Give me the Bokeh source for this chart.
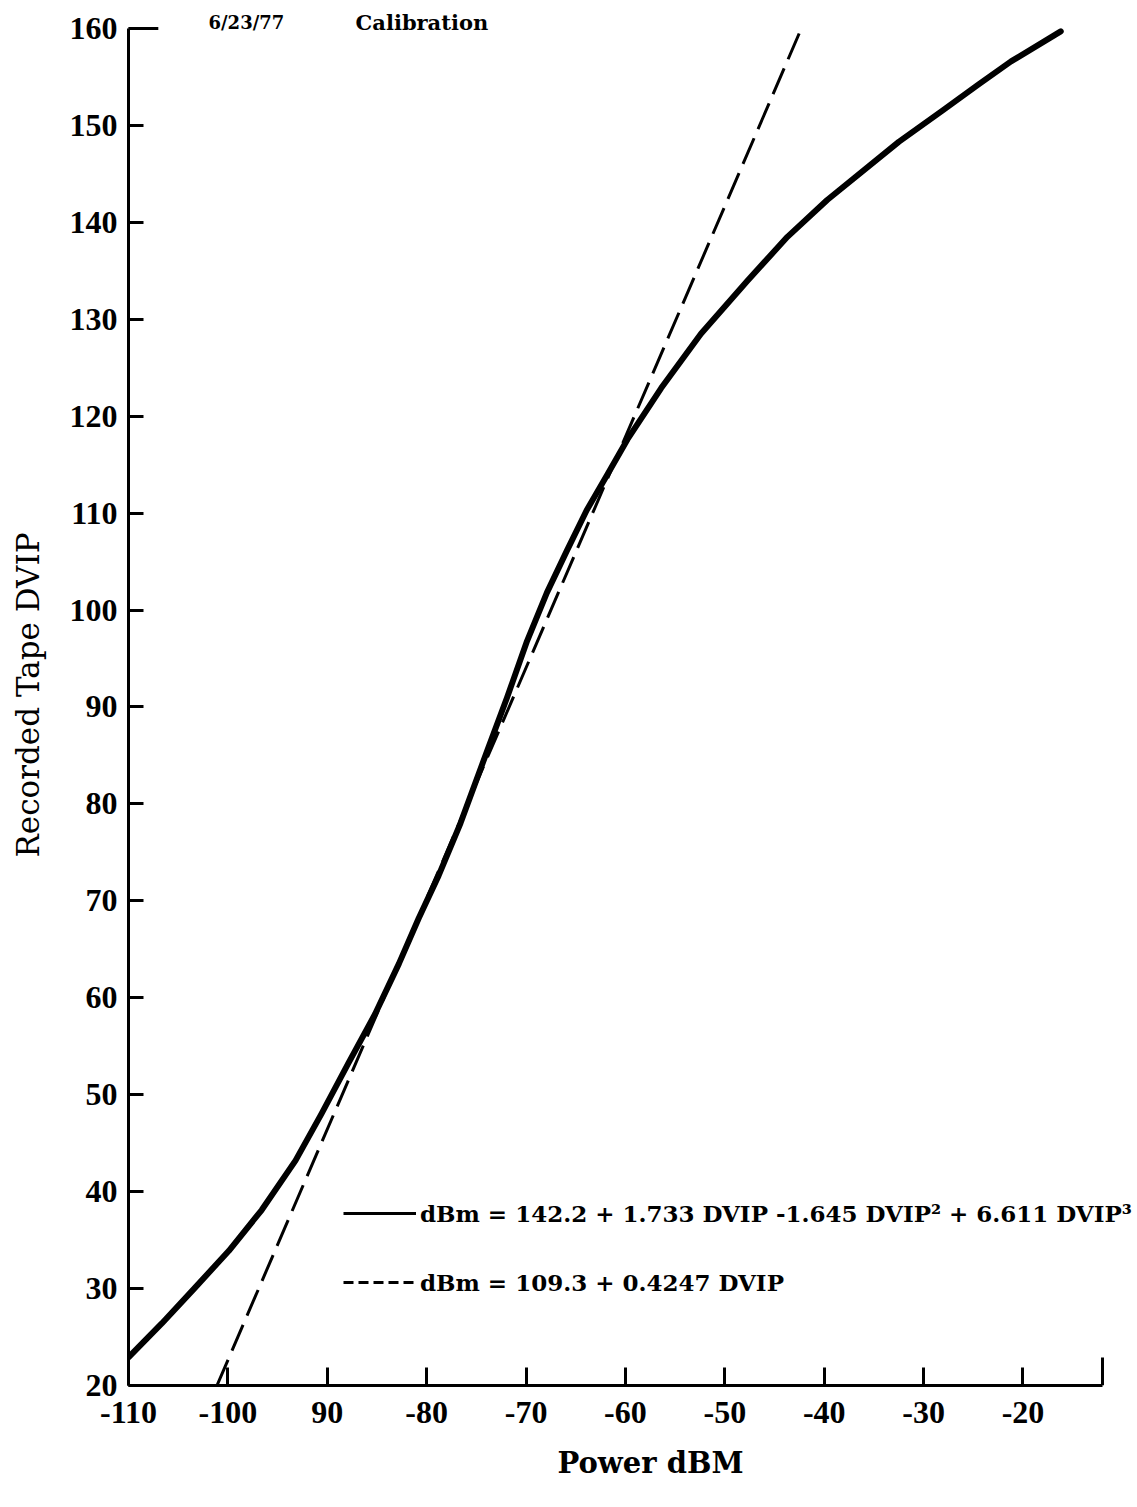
from bokeh.plotting import figure
from bokeh.models import Range1d, FixedTicker, Label, Legend, LegendItem, Title
from bokeh.embed import file_html
from bokeh.resources import INLINE

# ---- data ----
x_ticks = [-110, -100, -90, -80, -70, -60, -50, -40, -30, -20]
x_tick_labels = ["-110", "-100", "90", "-80", "-70", "-60", "-50", "-40", "-30", "-20"]
y_ticks = [20, 30, 40, 50, 60, 70, 80, 90, 100, 110, 120, 130, 140, 150, 160]
y_tick_labels = ["20", "30", "40", "50", "60", "70", "80", "90", "100", "110",
                 "120", "130", "140", "150", "160"]

# measured calibration curve (solid)
power_dbm = [-110.0, -106.65, -103.3, -99.9, -96.6, -93.2, -90.6, -87.9, -85.2, -82.8,
             -80.8, -78.8, -76.6, -73.9, -71.9, -69.9, -67.9, -65.9, -63.9, -61.8,
             -59.8, -56.4, -52.4, -47.7, -43.7, -39.7, -32.5, -28.0, -24.5, -21.2,
             -16.2]
dvip = [22.9, 26.4, 30.1, 33.9, 38.1, 43.2, 48.0, 53.2, 58.3, 63.5,
        68.2, 72.6, 78.0, 85.5, 91.0, 96.8, 101.8, 106.1, 110.3, 114.0,
        117.6, 122.9, 128.5, 134.0, 138.5, 142.3, 148.3, 151.6, 154.2, 156.6,
        159.7]

# linear fit (dashed)
fit_power_dbm = [-101.1, -42.3]
fit_dvip = [20.0, 160.0]

legend_labels = ["dBm = 142.2 + 1.733 DVIP -1.645 DVIP\u00b2 + 6.611 DVIP\u00b3",
                 "dBm = 109.3 + 0.4247 DVIP"]
title_date = "6/23/77"
title_text = "Calibration"
x_title = "Power dBM"
y_title = "Recorded Tape DVIP"

X_MIN, X_MAX = -110, -12      # drawn extent of the x axis
Y_MIN, Y_MAX = 20, 160        # drawn extent of the y axis
X_RIGHT = -8.78               # frame head-room right of the axis (key text)
Y_TOP = 162.47                # frame head-room above the axis (date line)

TICK_FONT = "Liberation Serif"
TEXT_FONT = "DejaVu Serif"

p = figure(width=1136, height=1500,
           x_range=Range1d(X_MIN, X_RIGHT), y_range=Range1d(Y_MIN, Y_TOP),
           output_backend="svg", toolbar_location=None,
           min_border_left=128, min_border_right=2,
           min_border_top=4, min_border_bottom=115)
p.grid.visible = False
p.outline_line_color = None
p.background_fill_color = "white"
p.border_fill_color = "white"

# x axis
xa = p.xaxis[0]
xa.ticker = FixedTicker(ticks=x_ticks)
xa.bounds = (X_MIN, X_MAX)
xa.major_label_overrides = {t: l for t, l in zip(x_ticks, x_tick_labels)}
xa.major_tick_in = 18
xa.major_tick_out = 0
xa.minor_tick_in = 0
xa.minor_tick_out = 0
xa.axis_line_width = 3
xa.major_tick_line_width = 3
xa.major_label_standoff = 16
xa.major_label_text_font = TICK_FONT
xa.major_label_text_font_style = "bold"
xa.major_label_text_font_size = "32px"
xa.major_label_text_color = "black"

# y axis
ya = p.yaxis[0]
ya.ticker = FixedTicker(ticks=y_ticks)
ya.bounds = (Y_MIN, Y_MAX)
ya.major_label_overrides = {t: l for t, l in zip(y_ticks, y_tick_labels)}
ya.major_tick_in = 15
ya.major_tick_out = 0
ya.minor_tick_in = 0
ya.minor_tick_out = 0
ya.axis_line_width = 3
ya.major_tick_line_width = 3
ya.major_label_standoff = 11
ya.major_label_text_font = TICK_FONT
ya.major_label_text_font_style = "bold"
ya.major_label_text_font_size = "32px"
ya.major_label_text_color = "black"
ya.axis_label = y_title
ya.axis_label_text_font = TEXT_FONT
ya.axis_label_text_font_style = "normal"
ya.axis_label_text_font_size = "31px"
ya.axis_label_text_color = "black"
ya.axis_label_standoff = 21

# curves
r_curve = p.line(power_dbm, dvip, line_width=6, line_color="black",
                 line_cap="round", line_join="round")
r_fit = p.line(fit_power_dbm, fit_dvip, line_width=3, line_color="black",
               line_dash="28 10")

# longer top tick and right end tick of the axes frame
p.segment(x0=[X_MIN], y0=[Y_MAX], x1=[X_MIN + 3.0], y1=[Y_MAX],
          line_width=3, line_color="black")
p.segment(x0=[X_MAX], y0=[Y_MIN], x1=[X_MAX], y1=[Y_MIN + 2.9],
          line_width=3, line_color="black")

# key samples: thin solid line and short dashes (only shown in the key)
r_key_solid = p.line(power_dbm, dvip, line_width=3, line_color="black",
                     muted_alpha=0)
r_key_solid.muted = True
r_key_dash = p.line(fit_power_dbm, fit_dvip, line_width=3, line_color="black",
                    line_dash="10 5", muted_alpha=0)
r_key_dash.muted = True

legend = Legend(items=[LegendItem(label=legend_labels[0], renderers=[r_key_solid]),
                       LegendItem(label=legend_labels[1], renderers=[r_key_dash])],
                location=(215, 88))
legend.border_line_color = None
legend.background_fill_alpha = 0
legend.inactive_fill_alpha = 0
legend.glyph_width = 73
legend.glyph_height = 30
legend.label_height = 30
legend.spacing = 39
legend.padding = 0
legend.margin = 0
legend.label_standoff = 4
legend.label_text_font = TEXT_FONT
legend.label_text_font_style = "bold"
legend.label_text_font_size = "23px"
legend.label_text_color = "black"
p.add_layout(legend)

# date / title line
for txt, xx, fs in ((title_date, -101.95, "18px"), (title_text, -87.15, "21px")):
    p.add_layout(Label(x=xx, y=160.6, text=txt, text_baseline="middle",
                       text_align="left", text_font=TEXT_FONT,
                       text_font_style="bold", text_font_size=fs,
                       text_color="black"))

# x-axis title
p.add_layout(Title(text=x_title, align="left", offset=429, standoff=36,
                   text_font=TEXT_FONT, text_font_style="bold",
                   text_font_size="29px", text_color="black"), "below")

open("out.html", "w").write(file_html(p, INLINE))
